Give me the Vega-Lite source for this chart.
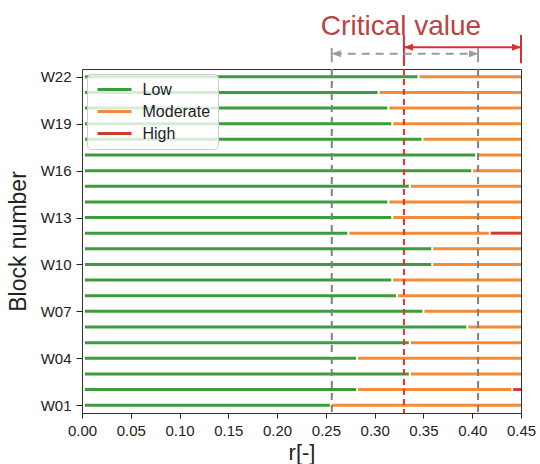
{
  "$schema": "https://vega.github.io/schema/vega-lite/v6.json",
  "padding": {"left": 6, "top": 0, "right": 2, "bottom": 0},
  "spacing": 0,
  "config": {
    "font": "Liberation Sans",
    "view": {"stroke": "#333333", "strokeWidth": 1},
    "axis": {"grid": false, "labelColor": "#222222", "titleColor": "#222222", "tickColor": "#222222", "titleFontWeight": "normal", "labelFont": "Liberation Sans", "titleFont": "Liberation Sans", "labelFlush": false}
  },
  "resolve": {"scale": {"color": "independent", "shape": "independent"}, "legend": {"color": "independent", "shape": "independent"}},
  "vconcat": [
    {
      "width": 439,
      "height": 66,
      "view": {"stroke": null},
      "layer": [
        {
          "data": {"values": [{"x": 0.327, "y": 33, "label": "Critical value"}]},
          "mark": {"type": "text", "fontSize": 28, "color": "#b84444", "baseline": "alphabetic", "align": "center"},
          "encoding": {
            "x": {"field": "x", "type": "quantitative", "scale": {"domain": [0, 0.45], "nice": false}, "axis": null},
            "y": {"field": "y", "type": "quantitative", "scale": {"domain": [0, 66]}, "axis": null},
            "text": {"field": "label"}
          }
        },
        {
          "data": {"values": [
            {"x": 0.33, "x2": 0.33, "y": 0, "y2": 33},
            {"x": 0.45, "x2": 0.45, "y": 3, "y2": 33},
            {"x": 0.33, "x2": 0.45, "y": 20, "y2": 20}
          ]},
          "mark": {"type": "rule", "color": "#d83030", "strokeWidth": 2},
          "encoding": {
            "x": {"field": "x", "type": "quantitative"},
            "x2": {"field": "x2"},
            "y": {"field": "y", "type": "quantitative"},
            "y2": {"field": "y2"}
          }
        },
        {
          "data": {"values": [
            {"x": 0.256, "y": 4, "y2": 19},
            {"x": 0.406, "y": 4, "y2": 19}
          ]},
          "mark": {"type": "rule", "color": "#9a9a9a", "strokeWidth": 2},
          "encoding": {
            "x": {"field": "x", "type": "quantitative"},
            "y": {"field": "y", "type": "quantitative"},
            "y2": {"field": "y2"}
          }
        },
        {
          "data": {"values": [{"x": 0.258, "x2": 0.404, "y": 13}]},
          "mark": {"type": "rule", "color": "#9a9a9a", "strokeWidth": 2, "strokeDash": [8, 6]},
          "encoding": {
            "x": {"field": "x", "type": "quantitative"},
            "x2": {"field": "x2"},
            "y": {"field": "y", "type": "quantitative"}
          }
        },
        {
          "data": {"values": [
            {"x": 0.33, "y": 20, "dir": "left"},
            {"x": 0.45, "y": 20, "dir": "right"}
          ]},
          "mark": {"type": "point", "filled": true, "opacity": 1, "size": 100, "color": "#d83030"},
          "encoding": {
            "x": {"field": "x", "type": "quantitative"},
            "y": {"field": "y", "type": "quantitative"},
            "shape": {"field": "dir", "type": "nominal", "scale": {"domain": ["left", "right"], "range": ["M0,0L1.8,-0.7L1.8,0.7Z", "M0,0L-1.8,-0.7L-1.8,0.7Z"]}, "legend": null}
          }
        },
        {
          "data": {"values": [
            {"x": 0.256, "y": 13, "dir": "left"},
            {"x": 0.406, "y": 13, "dir": "right"}
          ]},
          "mark": {"type": "point", "filled": true, "opacity": 1, "size": 100, "color": "#9a9a9a"},
          "encoding": {
            "x": {"field": "x", "type": "quantitative"},
            "y": {"field": "y", "type": "quantitative"},
            "shape": {"field": "dir", "type": "nominal", "scale": {"domain": ["left", "right"], "range": ["M0,0L1.8,-0.7L1.8,0.7Z", "M0,0L-1.8,-0.7L-1.8,0.7Z"]}, "legend": null}
          }
        }
      ]
    },
    {
      "width": 439,
      "height": 344,
      "layer": [
        {
          "data": {"values": [
            {"block": "W01", "level": "Low", "start": 0.003, "end": 0.254},
            {"block": "W01", "level": "Moderate", "start": 0.256, "end": 0.45},
            {"block": "W02", "level": "Low", "start": 0.003, "end": 0.281},
            {"block": "W02", "level": "Moderate", "start": 0.283, "end": 0.440},
            {"block": "W02", "level": "High", "start": 0.442, "end": 0.45},
            {"block": "W03", "level": "Low", "start": 0.003, "end": 0.335},
            {"block": "W03", "level": "Moderate", "start": 0.337, "end": 0.45},
            {"block": "W04", "level": "Low", "start": 0.003, "end": 0.281},
            {"block": "W04", "level": "Moderate", "start": 0.283, "end": 0.45},
            {"block": "W05", "level": "Low", "start": 0.003, "end": 0.335},
            {"block": "W05", "level": "Moderate", "start": 0.337, "end": 0.45},
            {"block": "W06", "level": "Low", "start": 0.003, "end": 0.394},
            {"block": "W06", "level": "Moderate", "start": 0.396, "end": 0.45},
            {"block": "W07", "level": "Low", "start": 0.003, "end": 0.349},
            {"block": "W07", "level": "Moderate", "start": 0.351, "end": 0.45},
            {"block": "W08", "level": "Low", "start": 0.003, "end": 0.322},
            {"block": "W08", "level": "Moderate", "start": 0.324, "end": 0.45},
            {"block": "W09", "level": "Low", "start": 0.003, "end": 0.317},
            {"block": "W09", "level": "Moderate", "start": 0.319, "end": 0.45},
            {"block": "W10", "level": "Low", "start": 0.003, "end": 0.358},
            {"block": "W10", "level": "Moderate", "start": 0.360, "end": 0.45},
            {"block": "W11", "level": "Low", "start": 0.003, "end": 0.358},
            {"block": "W11", "level": "Moderate", "start": 0.360, "end": 0.45},
            {"block": "W12", "level": "Low", "start": 0.003, "end": 0.272},
            {"block": "W12", "level": "Moderate", "start": 0.274, "end": 0.417},
            {"block": "W12", "level": "High", "start": 0.419, "end": 0.45},
            {"block": "W13", "level": "Low", "start": 0.003, "end": 0.317},
            {"block": "W13", "level": "Moderate", "start": 0.319, "end": 0.45},
            {"block": "W14", "level": "Low", "start": 0.003, "end": 0.313},
            {"block": "W14", "level": "Moderate", "start": 0.315, "end": 0.45},
            {"block": "W15", "level": "Low", "start": 0.003, "end": 0.335},
            {"block": "W15", "level": "Moderate", "start": 0.337, "end": 0.45},
            {"block": "W16", "level": "Low", "start": 0.003, "end": 0.399},
            {"block": "W16", "level": "Moderate", "start": 0.401, "end": 0.45},
            {"block": "W17", "level": "Low", "start": 0.003, "end": 0.403},
            {"block": "W17", "level": "Moderate", "start": 0.405, "end": 0.45},
            {"block": "W18", "level": "Low", "start": 0.003, "end": 0.348},
            {"block": "W18", "level": "Moderate", "start": 0.350, "end": 0.45},
            {"block": "W19", "level": "Low", "start": 0.003, "end": 0.317},
            {"block": "W19", "level": "Moderate", "start": 0.319, "end": 0.45},
            {"block": "W20", "level": "Low", "start": 0.003, "end": 0.313},
            {"block": "W20", "level": "Moderate", "start": 0.315, "end": 0.45},
            {"block": "W21", "level": "Low", "start": 0.003, "end": 0.303},
            {"block": "W21", "level": "Moderate", "start": 0.305, "end": 0.45},
            {"block": "W22", "level": "Low", "start": 0.003, "end": 0.344},
            {"block": "W22", "level": "Moderate", "start": 0.346, "end": 0.45}
          ]},
          "mark": {"type": "rule", "strokeWidth": 3},
          "encoding": {
            "y": {
              "field": "block", "type": "ordinal", "sort": "descending",
              "scale": {"type": "point", "padding": 0.5},
              "axis": {"values": ["W01", "W04", "W07", "W10", "W13", "W16", "W19", "W22"], "title": "Block number", "titleFontSize": 23, "labelFontSize": 15, "tickSize": 6, "labelPadding": 5, "titlePadding": 10, "domain": false}
            },
            "x": {
              "field": "start", "type": "quantitative",
              "scale": {"domain": [0, 0.45], "nice": false},
              "axis": {"values": [0, 0.05, 0.1, 0.15, 0.2, 0.25, 0.3, 0.35, 0.4, 0.45], "format": ".2f", "title": "r[-]", "titleFontSize": 22, "labelFontSize": 15, "tickSize": 5, "labelPadding": 5, "titlePadding": 4, "domain": false}
            },
            "x2": {"field": "end"},
            "color": {
              "field": "level", "type": "nominal",
              "scale": {"domain": ["Low", "Moderate", "High"], "range": ["#3c9b3c", "#f28c38", "#d13b2f"]},
              "legend": {"title": null, "orient": "top-left", "offset": 5, "symbolType": "M-1,0H5.8", "symbolSize": 100, "symbolStrokeWidth": 3, "labelFontSize": 16, "labelOffset": 32, "rowPadding": 6, "padding": 7.5, "fillColor": "rgba(255,255,255,0.8)", "strokeColor": "#cccccc", "cornerRadius": 4, "labelColor": "#222222"}
            }
          }
        },
        {
          "data": {"values": [{"r": 0.256}, {"r": 0.406}]},
          "mark": {"type": "rule", "color": "#7f7f7f", "strokeWidth": 2, "strokeDash": [7, 5]},
          "encoding": {"x": {"field": "r", "type": "quantitative"}}
        },
        {
          "data": {"values": [{"r": 0.33}]},
          "mark": {"type": "rule", "color": "#e8332a", "strokeWidth": 2, "strokeDash": [6, 4]},
          "encoding": {"x": {"field": "r", "type": "quantitative"}}
        }
      ]
    }
  ]
}
